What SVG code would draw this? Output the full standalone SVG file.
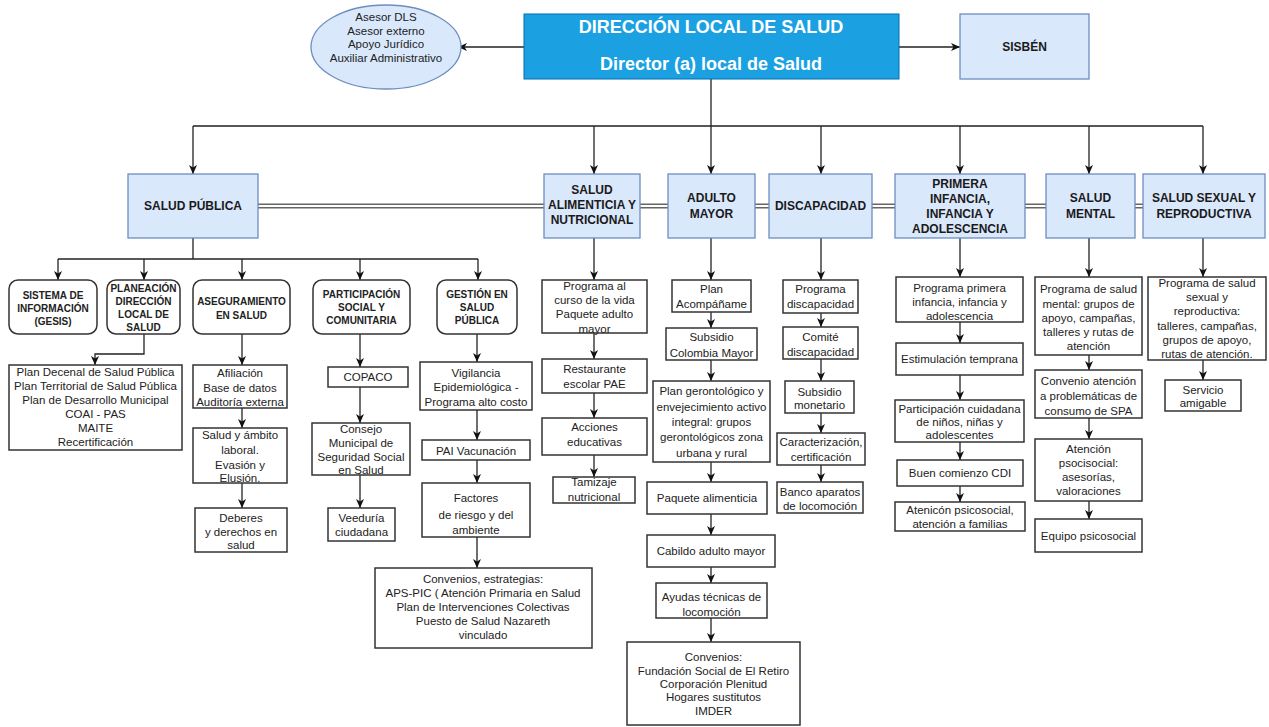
<svg xmlns="http://www.w3.org/2000/svg" width="1269" height="727" viewBox="0 0 1269 727">
<defs>
<marker id="arr" markerUnits="userSpaceOnUse" markerWidth="10" markerHeight="10" refX="9" refY="4" orient="auto">
<path d="M0,0 L9,4 L0,8 L2.5,4 z" fill="#111"/>
</marker>
<style>
text{font-family:"Liberation Sans",Arial,sans-serif;text-anchor:middle;dominant-baseline:central;fill:#222}
.cat{fill:#dae8fc;stroke:#6c8ebf;stroke-width:1.3}
.ct{font-size:12px;font-weight:bold;fill:#1a1a1a}
.sub{fill:#fff;stroke:#333;stroke-width:1.5}
.st{font-size:10px;font-weight:bold}
.bx{fill:#fff;stroke:#333;stroke-width:1.5}
.t{font-size:11.5px}
.c{fill:none;stroke:#222;stroke-width:1.3;marker-end:url(#arr)}
.l{fill:none;stroke:#222;stroke-width:1.3}
.dl{fill:none;stroke:#666;stroke-width:5}
.dw{fill:none;stroke:#fff;stroke-width:2}
</style>
</defs>
<rect width="1269" height="727" fill="#fff"/>

<g id="connectors">
<path class="c" d="M524,47 H458"/>
<path class="c" d="M899,47 H960"/>
<path class="l" d="M711,79 V126 M193,126 H1203"/>
<path class="c" d="M193,126 V174"/>
<path class="c" d="M594,126 V174"/>
<path class="c" d="M711,126 V174"/>
<path class="c" d="M821,126 V174"/>
<path class="c" d="M960,126 V174"/>
<path class="c" d="M1089,126 V174"/>
<path class="c" d="M1203,126 V174"/>
<g>
<path class="dl" d="M258,206 H544 M640,206 H668 M755,206 H769 M872,206 H895 M1025,206 H1046 M1135,206 H1143"/>
<path class="dw" d="M258,206 H544 M640,206 H668 M755,206 H769 M872,206 H895 M1025,206 H1046 M1135,206 H1143"/>
</g>
<path class="l" d="M193,238 V259 M58,259 H478"/>
<path class="c" d="M58,259 V280"/>
<path class="c" d="M144,259 V280"/>
<path class="c" d="M242,259 V280"/>
<path class="c" d="M360,259 V280"/>
<path class="c" d="M478,259 V280"/>
<path class="c" d="M144,334 V354 H95 V365"/>
<path class="c" d="M242,334 V365"/>
<path class="c" d="M242,408 V428"/>
<path class="c" d="M242,483 V508"/>
<path class="c" d="M360,334 V367"/>
<path class="c" d="M360,387 V423"/>
<path class="c" d="M360,475 V508"/>
<path class="c" d="M477,334 V362"/>
<path class="c" d="M477,410 V440"/>
<path class="c" d="M477,460 V483"/>
<path class="c" d="M477,537 V568"/>
<path class="c" d="M594,238 V280"/>
<path class="c" d="M594,333 V359"/>
<path class="c" d="M594,393 V418"/>
<path class="c" d="M594,455 V477"/>
<path class="c" d="M711,238 V280"/>
<path class="c" d="M711,312 V328"/>
<path class="c" d="M711,360 V381"/>
<path class="c" d="M711,462 V482"/>
<path class="c" d="M711,514 V535"/>
<path class="c" d="M711,567 V583"/>
<path class="c" d="M711,618 V642"/>
<path class="c" d="M821,238 V280"/>
<path class="c" d="M821,313 V327"/>
<path class="c" d="M821,359 V381"/>
<path class="c" d="M821,413 V433"/>
<path class="c" d="M821,465 V482"/>
<path class="c" d="M960,238 V277"/>
<path class="c" d="M960,322 V343"/>
<path class="c" d="M960,375 V400"/>
<path class="c" d="M960,442 V460"/>
<path class="c" d="M960,486 V502"/>
<path class="c" d="M1089,238 V277"/>
<path class="c" d="M1089,355 V370"/>
<path class="c" d="M1089,418 V439"/>
<path class="c" d="M1089,501 V519"/>
<path class="c" d="M1203,238 V277"/>
<path class="c" d="M1203,360 V380"/>
</g>

<g id="asesores">
<ellipse cx="386" cy="47" rx="75" ry="42" class="cat"/>
<text x="386" y="17" font-size="11.5">Asesor DLS</text>
<text x="386" y="30.5" font-size="11.5">Asesor externo</text>
<text x="386" y="44" font-size="11.5">Apoyo Jurídico</text>
<text x="386" y="57.5" font-size="11.5">Auxiliar Administrativo</text>
</g>
<g id="direccion">
<rect x="524" y="14" width="375" height="65" fill="#1ba1e2" stroke="#006eaf" stroke-width="1"/>
<text x="711" y="27" font-size="18" font-weight="bold" style="fill:#fff">DIRECCIÓN LOCAL DE SALUD</text>
<text x="711" y="64" font-size="18" font-weight="bold" style="fill:#fff">Director (a) local de Salud</text>
</g>
<g id="sisben">
<rect x="960" y="14" width="129" height="65" class="cat"/>
<text x="1024.5" y="47" class="ct">SISBÉN</text>
</g>

<g id="salud-publica">
<rect x="128" y="174" width="130" height="64" class="cat"/>
<text x="193" y="206" class="ct">SALUD PÚBLICA</text>
</g>
<g id="salud-alimenticia">
<rect x="544" y="174" width="96" height="64" class="cat"/>
<text x="592" y="190" class="ct">SALUD</text>
<text x="592" y="205" class="ct">ALIMENTICIA Y</text>
<text x="592" y="220" class="ct">NUTRICIONAL</text>
</g>
<g id="adulto-mayor">
<rect x="668" y="174" width="87" height="64" class="cat"/>
<text x="711.5" y="198" class="ct">ADULTO</text>
<text x="711.5" y="214" class="ct">MAYOR</text>
</g>
<g id="discapacidad">
<rect x="769" y="174" width="103" height="64" class="cat"/>
<text x="820.5" y="206" class="ct">DISCAPACIDAD</text>
</g>
<g id="primera-infancia">
<rect x="895" y="174" width="130" height="64" class="cat"/>
<text x="960" y="184" class="ct">PRIMERA</text>
<text x="960" y="199" class="ct">INFANCIA,</text>
<text x="960" y="214" class="ct">INFANCIA Y</text>
<text x="960" y="229" class="ct">ADOLESCENCIA</text>
</g>
<g id="salud-mental">
<rect x="1046" y="174" width="89" height="64" class="cat"/>
<text x="1090.5" y="198" class="ct">SALUD</text>
<text x="1090.5" y="214" class="ct">MENTAL</text>
</g>
<g id="salud-sexual">
<rect x="1143" y="174" width="122" height="64" class="cat"/>
<text x="1204" y="198" class="ct">SALUD SEXUAL Y</text>
<text x="1204" y="214" class="ct">REPRODUCTIVA</text>
</g>

<g id="sistema-info">
<rect x="9" y="280" width="88" height="54" rx="9" class="sub"/>
<text x="53" y="295" class="st">SISTEMA DE</text>
<text x="53" y="308" class="st">INFORMACIÓN</text>
<text x="53" y="321" class="st">(GESIS)</text>
</g>
<g id="planeacion">
<rect x="107" y="280" width="73" height="54" rx="9" class="sub"/>
<text x="143.5" y="288" class="st">PLANEACIÓN</text>
<text x="143.5" y="301" class="st">DIRECCIÓN</text>
<text x="143.5" y="314" class="st">LOCAL DE</text>
<text x="143.5" y="327" class="st">SALUD</text>
</g>
<g id="aseguramiento">
<rect x="193" y="280" width="97" height="54" rx="9" class="sub"/>
<text x="241.5" y="301" class="st" font-size="10.5">ASEGURAMIENTO</text>
<text x="241.5" y="315" class="st" font-size="10.5">EN SALUD</text>
</g>
<g id="participacion">
<rect x="313" y="280" width="97" height="54" rx="9" class="sub"/>
<text x="361.5" y="294" class="st">PARTICIPACIÓN</text>
<text x="361.5" y="307" class="st">SOCIAL Y</text>
<text x="361.5" y="320" class="st">COMUNITARIA</text>
</g>
<g id="gestion">
<rect x="437" y="280" width="80" height="54" rx="9" class="sub"/>
<text x="477" y="294" class="st">GESTIÓN EN</text>
<text x="477" y="307" class="st">SALUD</text>
<text x="477" y="320" class="st">PÚBLICA</text>
</g>

<g id="planes">
<rect x="9" y="365" width="173" height="85" class="bx"/>
<text x="95.5" y="372" class="t">Plan Decenal de Salud Pública</text>
<text x="95.5" y="386" class="t">Plan Territorial de Salud Pública</text>
<text x="95.5" y="400" class="t">Plan de Desarrollo Municipal</text>
<text x="95.5" y="414" class="t">COAI - PAS</text>
<text x="95.5" y="428" class="t">MAITE</text>
<text x="95.5" y="442" class="t">Recertificación</text>
</g>
<g id="afiliacion">
<rect x="193" y="365" width="94" height="43" class="bx"/>
<text x="240" y="373" class="t">Afiliación</text>
<text x="240" y="388" class="t">Base de datos</text>
<text x="240" y="402" class="t">Auditoría externa</text>
</g>
<g id="ambito-laboral">
<rect x="193" y="428" width="94" height="55" class="bx"/>
<text x="240" y="435" class="t">Salud y ámbito</text>
<text x="240" y="450" class="t">laboral.</text>
<text x="240" y="465" class="t">Evasión y</text>
<text x="240" y="478" class="t">Elusión.</text>
</g>
<g id="deberes">
<rect x="195" y="508" width="92" height="44" class="bx"/>
<text x="241" y="518" class="t">Deberes</text>
<text x="241" y="532" class="t">y derechos en</text>
<text x="241" y="545" class="t">salud</text>
</g>
<g id="copaco">
<rect x="328" y="367" width="80" height="20" class="bx"/>
<text x="368" y="377" class="t">COPACO</text>
</g>
<g id="consejo">
<rect x="312" y="423" width="98" height="52" class="bx"/>
<text x="361" y="429" class="t">Consejo</text>
<text x="361" y="443" class="t">Municipal de</text>
<text x="361" y="457" class="t">Seguridad Social</text>
<text x="361" y="470" class="t">en Salud</text>
</g>
<g id="veeduria">
<rect x="328" y="508" width="67" height="33" class="bx"/>
<text x="361.5" y="518" class="t">Veeduría</text>
<text x="361.5" y="532" class="t">ciudadana</text>
</g>
<g id="vigilancia">
<rect x="420" y="362" width="112" height="48" class="bx"/>
<text x="476" y="373" class="t">Vigilancia</text>
<text x="476" y="387" class="t">Epidemiológica -</text>
<text x="476" y="402" class="t">Programa alto costo</text>
</g>
<g id="pai">
<rect x="422" y="440" width="108" height="20" class="bx"/>
<text x="476" y="451" class="t">PAI Vacunación</text>
</g>
<g id="factores">
<rect x="422" y="483" width="108" height="54" class="bx"/>
<text x="476" y="498" class="t">Factores</text>
<text x="476" y="515" class="t">de riesgo y del</text>
<text x="476" y="530" class="t">ambiente</text>
</g>
<g id="convenios-sp">
<rect x="375" y="568" width="217" height="80" class="bx"/>
<text x="483" y="579" class="t">Convenios, estrategias:</text>
<text x="483" y="593" class="t">APS-PIC ( Atención Primaria en Salud</text>
<text x="483" y="607" class="t">Plan de Intervenciones Colectivas</text>
<text x="483" y="621" class="t">Puesto de Salud Nazareth</text>
<text x="483" y="635" class="t">vinculado</text>
</g>

<g id="programa-curso">
<rect x="542" y="280" width="105" height="53" class="bx"/>
<text x="594.5" y="286" class="t">Programa al</text>
<text x="594.5" y="300" class="t">curso de la vida</text>
<text x="594.5" y="314" class="t">Paquete adulto</text>
<text x="594.5" y="329" class="t">mayor</text>
</g>
<g id="restaurante">
<rect x="542" y="359" width="105" height="34" class="bx"/>
<text x="594.5" y="369" class="t">Restaurante</text>
<text x="594.5" y="384" class="t">escolar PAE</text>
</g>
<g id="acciones">
<rect x="542" y="418" width="105" height="37" class="bx"/>
<text x="594.5" y="427" class="t">Acciones</text>
<text x="594.5" y="442" class="t">educativas</text>
</g>
<g id="tamizaje">
<rect x="553" y="477" width="82" height="26" class="bx"/>
<text x="594" y="482" class="t">Tamizaje</text>
<text x="594" y="497" class="t">nutricional</text>
</g>

<g id="acompaname">
<rect x="672" y="280" width="79" height="32" class="bx"/>
<text x="711.5" y="289" class="t">Plan</text>
<text x="711.5" y="304" class="t">Acompáñame</text>
</g>
<g id="colombia-mayor">
<rect x="666" y="328" width="91" height="32" class="bx"/>
<text x="711.5" y="337" class="t">Subsidio</text>
<text x="711.5" y="353" class="t">Colombia Mayor</text>
</g>
<g id="gerontologico">
<rect x="653" y="381" width="117" height="81" class="bx"/>
<text x="711.5" y="391" class="t">Plan gerontológico y</text>
<text x="711.5" y="407" class="t">envejecimiento activo</text>
<text x="711.5" y="422" class="t">integral: grupos</text>
<text x="711.5" y="437" class="t">gerontológicos zona</text>
<text x="711.5" y="453" class="t">urbana y rural</text>
</g>
<g id="paquete">
<rect x="647" y="482" width="120" height="32" class="bx"/>
<text x="707" y="498" class="t">Paquete alimenticia</text>
</g>
<g id="cabildo">
<rect x="647" y="535" width="128" height="32" class="bx"/>
<text x="711" y="551" class="t">Cabildo adulto mayor</text>
</g>
<g id="ayudas">
<rect x="656" y="583" width="111" height="35" class="bx"/>
<text x="711.5" y="597" class="t">Ayudas técnicas de</text>
<text x="711.5" y="612" class="t">locomoción</text>
</g>
<g id="convenios-am">
<rect x="627" y="642" width="173" height="83" class="bx"/>
<text x="713.5" y="657" class="t">Convenios:</text>
<text x="713.5" y="671" class="t">Fundación Social de El Retiro</text>
<text x="713.5" y="684" class="t">Corporación Plenitud</text>
<text x="713.5" y="697" class="t">Hogares sustitutos</text>
<text x="713.5" y="711" class="t">IMDER</text>
</g>

<g id="programa-discapacidad">
<rect x="783" y="280" width="75" height="33" class="bx"/>
<text x="820.5" y="289" class="t">Programa</text>
<text x="820.5" y="304" class="t">discapacidad</text>
</g>
<g id="comite">
<rect x="783" y="327" width="75" height="32" class="bx"/>
<text x="820.5" y="337" class="t">Comité</text>
<text x="820.5" y="352" class="t">discapacidad</text>
</g>
<g id="subsidio-monetario">
<rect x="785" y="381" width="69" height="32" class="bx"/>
<text x="819.5" y="392" class="t">Subsidio</text>
<text x="819.5" y="405" class="t">monetario</text>
</g>
<g id="caracterizacion">
<rect x="777" y="433" width="88" height="32" class="bx"/>
<text x="821" y="442" class="t">Caracterización,</text>
<text x="821" y="457" class="t">certificación</text>
</g>
<g id="banco">
<rect x="777" y="482" width="86" height="31" class="bx"/>
<text x="820" y="492" class="t">Banco aparatos</text>
<text x="820" y="506" class="t">de locomoción</text>
</g>

<g id="programa-primera">
<rect x="896" y="277" width="127" height="45" class="bx"/>
<text x="959.5" y="288" class="t">Programa primera</text>
<text x="959.5" y="302" class="t">infancia, infancia y</text>
<text x="959.5" y="316" class="t">adolescencia</text>
</g>
<g id="estimulacion">
<rect x="896" y="343" width="127" height="32" class="bx"/>
<text x="959.5" y="359" class="t">Estimulación temprana</text>
</g>
<g id="participacion-ninos">
<rect x="895" y="400" width="129" height="42" class="bx"/>
<text x="959.5" y="409" class="t">Participación cuidadana</text>
<text x="959.5" y="422" class="t">de niños, niñas y</text>
<text x="959.5" y="435" class="t">adolescentes</text>
</g>
<g id="buen-comienzo">
<rect x="897" y="460" width="126" height="26" class="bx"/>
<text x="960" y="473" class="t">Buen comienzo CDI</text>
</g>
<g id="atencion-familias">
<rect x="895" y="502" width="130" height="29" class="bx"/>
<text x="960" y="510" class="t">Atenicón psicosocial,</text>
<text x="960" y="524" class="t">atención a familias</text>
</g>

<g id="programa-mental">
<rect x="1035" y="277" width="107" height="78" class="bx"/>
<text x="1088.5" y="289" class="t">Programa de salud</text>
<text x="1088.5" y="304" class="t">mental: grupos de</text>
<text x="1088.5" y="318" class="t">apoyo, campañas,</text>
<text x="1088.5" y="332" class="t">talleres y rutas de</text>
<text x="1088.5" y="346" class="t">atención</text>
</g>
<g id="convenio-spa">
<rect x="1035" y="370" width="107" height="48" class="bx"/>
<text x="1088.5" y="381" class="t">Convenio atención</text>
<text x="1088.5" y="396" class="t">a problemáticas de</text>
<text x="1088.5" y="411" class="t">consumo de SPA</text>
</g>
<g id="atencion-psicosocial">
<rect x="1035" y="439" width="107" height="62" class="bx"/>
<text x="1088.5" y="449" class="t">Atención</text>
<text x="1088.5" y="463" class="t">psocisocial:</text>
<text x="1088.5" y="477" class="t">asesorías,</text>
<text x="1088.5" y="491" class="t">valoraciones</text>
</g>
<g id="equipo">
<rect x="1035" y="519" width="107" height="33" class="bx"/>
<text x="1088.5" y="536" class="t">Equipo psicosocial</text>
</g>

<g id="programa-sexual">
<rect x="1148" y="277" width="118" height="83" class="bx"/>
<text x="1207" y="283" class="t">Programa de salud</text>
<text x="1207" y="297" class="t">sexual y</text>
<text x="1207" y="311" class="t">reproductiva:</text>
<text x="1207" y="326" class="t">talleres, campañas,</text>
<text x="1207" y="340" class="t">grupos de apoyo,</text>
<text x="1207" y="354" class="t">rutas de atención.</text>
</g>
<g id="servicio-amigable">
<rect x="1165" y="380" width="76" height="31" class="bx"/>
<text x="1203" y="390" class="t">Servicio</text>
<text x="1203" y="403" class="t">amigable</text>
</g>
</svg>
